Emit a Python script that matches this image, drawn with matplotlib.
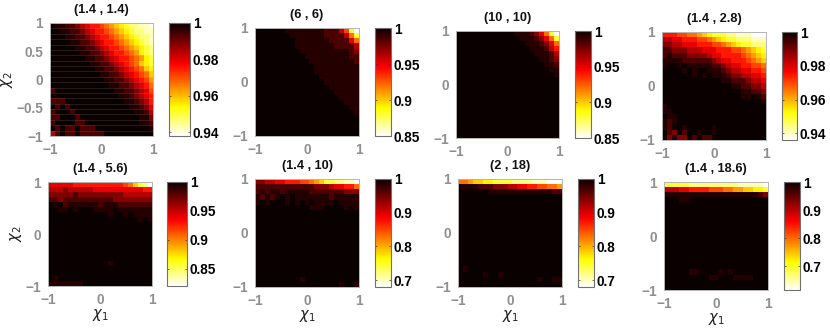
import numpy as np
import matplotlib
matplotlib.use("Agg")
import matplotlib.pyplot as plt

plt.rcParams['font.family'] = ['Liberation Sans', 'DejaVu Sans']
plt.rcParams['mathtext.fontset'] = 'dejavusans'

# each row is y=1 (top) to y=-1, one hex digit per cell
# 0 = value 1 (black), f = bottom of that panel's colorbar (white)
dark = "000000000000000000000"

p1_rows = [
    "0112234566789abcddeef", "00112234566789abcddee", "000112234566789abcdde",
    "0000112234566789abcde", "00000112234566789abcd", "000000112234566789bcd",
    "0000000112234566789bc", "000000001122345678abc", "0000000001122345678ab",
    "00000000001122345678a", "000000000001122345679", "000000000000112234568",
    "200000000000011223457", "000000000000001123456", "222000000000000112346",
    "020200000000000011235", "200020000000000001124", "220002000000000000113",
    "200002200000000000112", "020220222000000000001", "420220222220000000000",
]
p2_rows = [
    "0000001111111122247cf", "00000001111111222248c", "000000001111111222258",
    "000000001111111122224", "000000000111111111123", "000000000011111111122",
    "000000000001111111112", "000000000000111111111", "000000000000111111111",
    "000000000000011111111", "000000000000001111111", "000000000000000111111",
    "000000000000000011111", "000000000000000001111", "000000000000000000111",
    "000000000000000000011", "000000000000000000001", dark, dark, dark, dark,
]
p3_rows = [
    "0000000000001112358cf", "00000000000001112358c", "000000000000001112358",
    "000000000000000111246", "000000000000000011124", "000000000000000001123",
    "000000000000000000112", "000000000000000000011", "000000000000000000001",
    dark, dark, dark, dark, dark, dark, dark, dark, dark, dark, dark, dark,
]
p4_rows = [
    "66677889abcccddeeefff", "44556667789abccdddeee", "33445556667789abccddd",
    "223334445556667789abc", "2122233334556666789ab", "11112222223455666789a",
    "100101111122345566778", "000010100111234455667", "000000101011123344556",
    "000000000000112223445", "000000000000001122334", "000000000000000011223",
    "000000000000000011012", "000000000000000000001", "100000000000000000000",
    "110000000000000000000", "011000000000000000000", "121000000000000000000",
    "120010000010000000000", "023020010010000000000", "031330202200000000000",
]
p5_rows = [
    "55555666666666678acdf", "444344444555555555566", "333332333333333444444",
    "223222222222233333333", "010211111121112222222", "001101000111101111111",
    "000000000000100101111", "000000000000000000101", dark, dark, dark, dark, dark,
    dark, dark, dark, "000000000000100000000", dark, dark,
    "010000000000000000000", "111111100000000000000",
]
p6_rows = [
    "3344556667789accddeef", "222222222222333455668", "212112111112222222333",
    "121210101111111211111", "101000101010111101111", "000000000001110000101",
    dark, dark, dark, dark, dark, dark, dark, dark, dark, dark, dark, dark, dark,
    "000000000100000000000", "000000000000000001001",
]
p7_rows = [
    "889aabbccccddddeeefff", "111122233344556677889", "000000111111111111122",
    dark, dark, dark, dark, dark, dark, dark, dark, dark, dark, dark, dark, dark, dark,
    "010000000000000000000", "000001001000000000000", "000000000000000010011", dark,
]
p8_rows = [
    "cccccddddddddddeeeeef", "4445566667778899aabbc", "111111111111111111123",
    "000110000000000000000", dark, dark, dark, dark, dark, dark, dark, dark, dark,
    dark, dark, dark, dark, "000001100001010000000", "000000000110001111000", dark, dark,
]

# share of the colorbar range for each digit, the low digits are nearly black
level_frac = [0, 0.04, 0.1, 0.18, 0.26, 0.33, 0.4, 0.47, 0.53, 0.6, 0.67, 0.73, 0.8, 0.87, 0.93, 1]

titles = ["(1.4 , 1.4)", "(6 , 6)", "(10 , 10)", "(1.4 , 2.8)",
          "(1.4 , 5.6)", "(1.4 , 10)", "(2 , 18)", "(1.4 , 18.6)"]
panels = [p1_rows, p2_rows, p3_rows, p4_rows, p5_rows, p6_rows, p7_rows, p8_rows]
vmins = [0.938, 0.85, 0.85, 0.936, 0.82, 0.68, 0.68, 0.615]
cb_ticks = [[0.94, 0.96, 0.98, 1], [0.85, 0.9, 0.95, 1], [0.85, 0.9, 0.95, 1], [0.94, 0.96, 0.98, 1],
            [0.85, 0.9, 0.95, 1], [0.7, 0.8, 0.9, 1], [0.7, 0.8, 0.9, 1], [0.7, 0.8, 0.9, 1]]

# pixel boxes: image x0, x1, y0, y1, colorbar x0, x1
boxes = [(50, 153, 23, 136, 169, 190), (255, 359, 28, 136, 375, 391),
         (456, 559, 31, 138, 575, 591), (662, 766, 32, 140, 782, 797),
         (48, 152, 182, 286, 167, 187), (255, 359, 179, 287, 375, 391),
         (458, 562, 179, 287, 578, 594), (664, 768, 182, 290, 784, 800)]

W, H = 830, 328
gray = '#8f8f8f'
frame = '#b5b5b5'
fs = 9.8

fig = plt.figure(figsize=(W / 100, H / 100), dpi=100)


def px_axes(x0, x1, y0, y1):
    return fig.add_axes([x0 / W, 1 - y1 / H, (x1 - x0) / W, (y1 - y0) / H])


for i, rows in enumerate(panels):
    x0, x1, y0, y1, cx0, cx1 = boxes[i]
    levels = np.array([[level_frac[int(c, 16)] for c in r] for r in rows])
    values = 1 - levels * (1 - vmins[i])

    ax = px_axes(x0, x1, y0, y1)
    im = ax.imshow(values, cmap='hot_r', vmin=vmins[i], vmax=1, extent=(-1, 1, -1, 1),
                   origin='upper', aspect='auto', interpolation='nearest')
    if i == 0:
        # faint scan lines between the rows of the first panel
        ax.hlines(np.linspace(-1, 1, 22)[1:-1], -1, 1, color='white', lw=0.5, alpha=0.15)
    ax.set_xticks([-1, 0, 1])
    ax.set_xticklabels(['\u22121', '0', '1'])
    if i == 0:
        ax.set_yticks([-1, -0.5, 0, 0.5, 1])
        ax.set_yticklabels(['\u22121', '\u22120.5', '0', '0.5', '1'])
    else:
        ax.set_yticks([-1, 0, 1])
        ax.set_yticklabels(['\u22121', '0', '1'])
    ax.tick_params(length=0, pad=5, labelsize=fs, labelcolor=gray)
    for lab in ax.get_xticklabels() + ax.get_yticklabels():
        lab.set_fontweight('bold')
    for s in ax.spines.values():
        s.set_color(frame)
        s.set_linewidth(0.7)
    ax.set_title(titles[i], fontsize=9.2, fontweight='bold', color='#111111', pad=7)
    if i >= 4:
        ax.set_xlabel(r'$\chi_1$', fontsize=10.5, labelpad=0, color='#222222')
    if i in (0, 4):
        ax.set_ylabel(r'$\chi_2$', fontsize=10.5, labelpad=1, color='#222222')

    cax = px_axes(cx0, cx1, y0, y1)
    cb = fig.colorbar(im, cax=cax)
    cb.set_ticks(cb_ticks[i])
    cb.set_ticklabels([str(t) for t in cb_ticks[i]])
    cax.tick_params(axis='y', direction='in', left=True, right=True, length=1.5, width=0.5,
                    color='#333333', pad=2, labelsize=9.8, labelcolor='black')
    for lab in cax.get_yticklabels():
        lab.set_fontweight('bold')
    cb.outline.set_edgecolor('#707070')
    cb.outline.set_linewidth(0.8)

fig.savefig('out.png', dpi=100)
